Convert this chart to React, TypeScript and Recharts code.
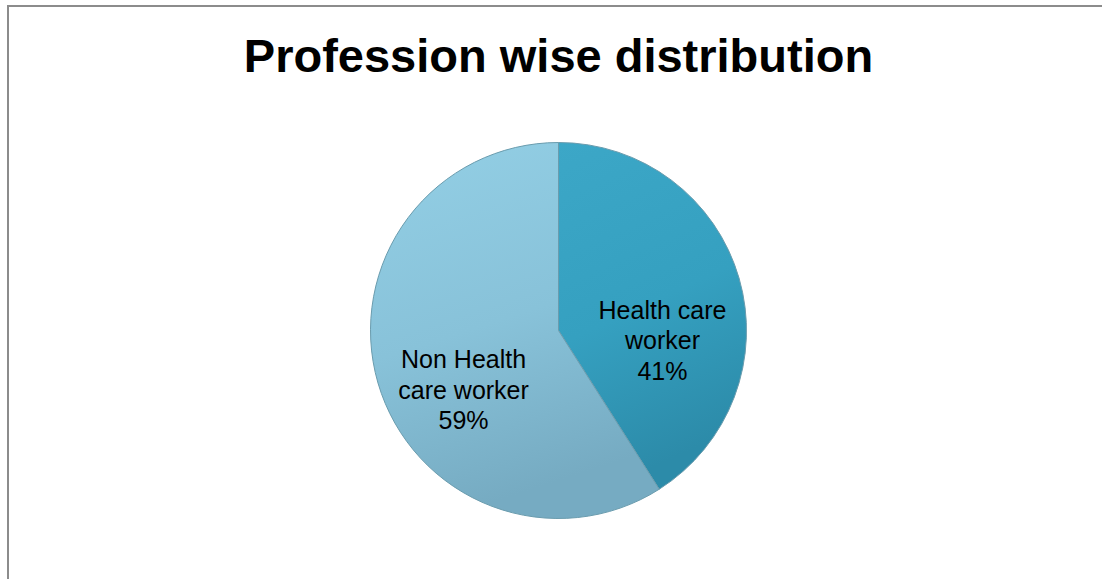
import { PieChart, Pie, Cell } from 'recharts'

const categories = ['Health care worker', 'Non Health care worker']
const labelLines = [
  ['Health care', 'worker'],
  ['Non Health', 'care worker'],
]
const shares = [41, 59]
// where Excel put each label, as a fraction of the radius from the centre
const labelSpotX = [0.553, -0.505]
const labelSpotY = [0.053, 0.314]

const data = categories.map((name, i) => ({ name, value: shares[i] }))

const gradients = [
  { id: 'hcw', top: '#3CA7C7', mid: '#35A0C0', bottom: '#2C8BA9' },
  { id: 'nhcw', top: '#93CFE5', mid: '#88C2D9', bottom: '#76ABC2' },
]

const CX = 558.5
const CY = 330.5
const R = 188

function renderLabel(props: any) {
  const { index, percent } = props
  const x = CX + labelSpotX[index] * R
  const y = CY + labelSpotY[index] * R
  const lines = [...labelLines[index], `${Math.round(percent * 100)}%`]
  const lh = 30.5
  const start = y - ((lines.length - 1) * lh) / 2 + 9
  return (
    <text
      x={x}
      y={start}
      textAnchor="middle"
      fill="#000"
      fontSize={25}
      fontFamily="'Liberation Sans', Arial, sans-serif"
    >
      {lines.map((l, k) => (
        <tspan key={k} x={x} y={start + k * lh}>
          {l}
        </tspan>
      ))}
    </text>
  )
}

export default function App() {
  return (
    <div style={{ position: 'fixed', left: 0, top: 0, width: 1102, height: 579, background: '#fff', overflow: 'hidden' }}>
      <div
        style={{
          position: 'absolute',
          left: 7,
          top: 5,
          width: 1200,
          height: 700,
          borderLeft: '2px solid #8c8c8c',
          borderTop: '2px solid #8c8c8c',
        }}
      />
      <svg width={1102} height={579} style={{ position: 'absolute', left: 0, top: 0 }}>
        <text
          x={558.5}
          y={71.5}
          textAnchor="middle"
          fontSize={47}
          fontWeight="bold"
          fontFamily="'Liberation Sans', Arial, sans-serif"
          fill="#000"
        >
          Profession wise distribution
        </text>
      </svg>
      <div style={{ position: 'absolute', left: 0, top: 0 }}>
        <PieChart width={1102} height={579} margin={{ top: 0, right: 0, bottom: 0, left: 0 }}>
          <defs>
            {gradients.map((g) => (
              <linearGradient key={g.id} id={g.id} x1="0" y1="0" x2="0.25" y2="1">
                <stop offset="0%" stopColor={g.top} />
                <stop offset="55%" stopColor={g.mid} />
                <stop offset="100%" stopColor={g.bottom} />
              </linearGradient>
            ))}
          </defs>
          <Pie
            data={data}
            dataKey="value"
            nameKey="name"
            cx={CX}
            cy={CY}
            outerRadius={R}
            startAngle={90}
            endAngle={-270}
            stroke="#6A9CAE"
            strokeWidth={1}
            labelLine={false}
            label={renderLabel}
            isAnimationActive={false}
          >
            {data.map((d, i) => (
              <Cell key={d.name} fill={`url(#${gradients[i].id})`} />
            ))}
          </Pie>
        </PieChart>
      </div>
    </div>
  )
}
